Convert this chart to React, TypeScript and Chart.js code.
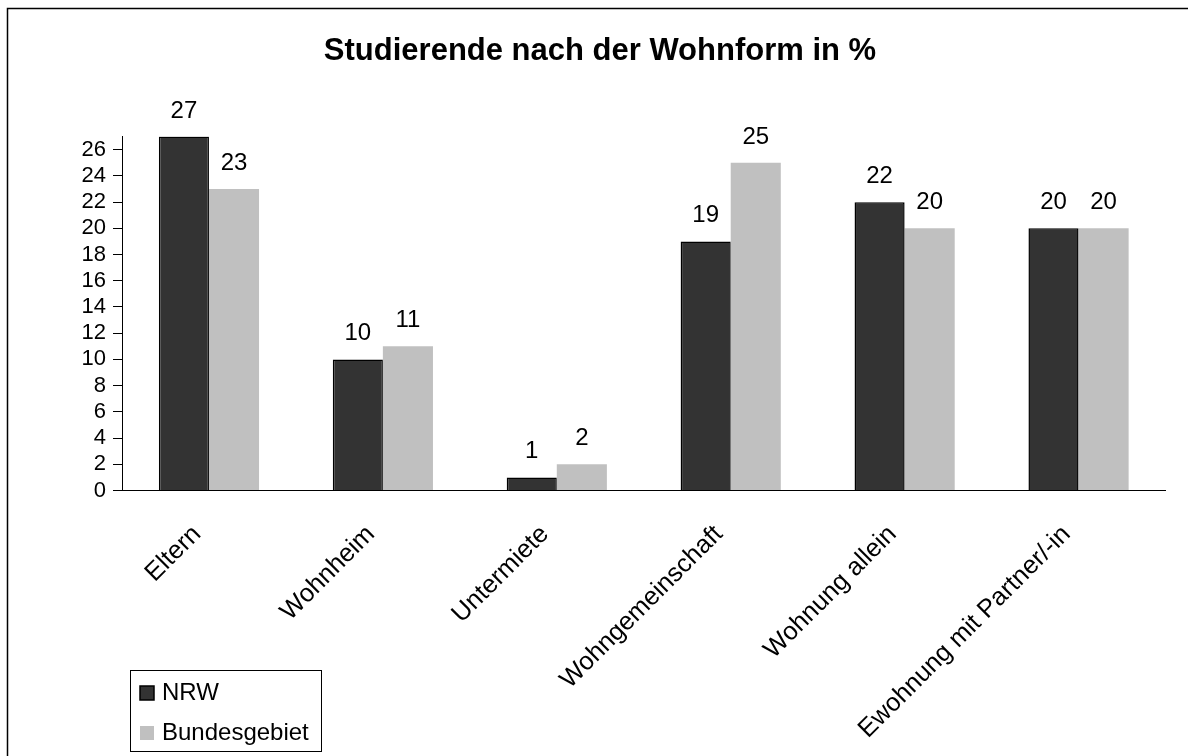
import React, { useEffect, useRef } from "react";
import { Chart, registerables } from "chart.js";

Chart.register(...registerables);

const categories = [
  "Eltern",
  "Wohnheim",
  "Untermiete",
  "Wohngemeinschaft",
  "Wohnung allein",
  "Ewohnung mit Partner/-in",
];
const nrwValues = [27, 10, 1, 19, 22, 20];
const bundValues = [23, 11, 2, 25, 20, 20];
const seriesNames = ["NRW", "Bundesgebiet"];
const yTickValues = [0, 2, 4, 6, 8, 10, 12, 14, 16, 18, 20, 22, 24, 26];
const titleText = "Studierende nach der Wohnform in %";

const FONT = "'Liberation Sans', Arial, sans-serif";

const framePlugin = {
  id: "frame",
  beforeDraw(chart: any) {
    const ctx = chart.ctx;
    ctx.save();
    ctx.fillStyle = "#ffffff";
    ctx.fillRect(0, 0, chart.width, chart.height);
    ctx.strokeStyle = "#000000";
    ctx.lineWidth = 1.5;
    ctx.strokeRect(7.5, 8.5, chart.width + 20, chart.height + 20);
    ctx.font = `bold 31px ${FONT}`;
    ctx.fillStyle = "#000000";
    ctx.textAlign = "center";
    ctx.textBaseline = "middle";
    ctx.fillText(titleText, 600, 51);
    ctx.restore();
  },
};

const valueLabelPlugin = {
  id: "valueLabels",
  afterDatasetsDraw(chart: any) {
    const ctx = chart.ctx;
    ctx.save();
    ctx.font = `24px ${FONT}`;
    ctx.fillStyle = "#000000";
    ctx.textAlign = "center";
    ctx.textBaseline = "alphabetic";
    chart.data.datasets.forEach((ds: any, di: number) => {
      const meta = chart.getDatasetMeta(di);
      meta.data.forEach((el: any, i: number) => {
        ctx.fillText(String(ds.data[i]), el.x, el.y - 19);
      });
    });
    ctx.restore();
  },
};

const boxLegendPlugin = {
  id: "boxLegend",
  afterDraw(chart: any) {
    const ctx = chart.ctx;
    ctx.save();
    ctx.strokeStyle = "#000000";
    ctx.lineWidth = 1;
    ctx.strokeRect(130.5, 670.5, 191, 81);
    ctx.font = `24px ${FONT}`;
    ctx.textAlign = "left";
    ctx.textBaseline = "alphabetic";
    chart.data.datasets.forEach((ds: any, i: number) => {
      const y = 686 + i * 40;
      ctx.fillStyle = ds.backgroundColor;
      ctx.fillRect(140, y, 14, 14);
      if (ds.borderWidth > 0) {
        ctx.strokeStyle = "#000000";
        ctx.lineWidth = 1.5;
        ctx.strokeRect(140, y, 14, 14);
      }
      ctx.fillStyle = "#000000";
      ctx.fillText(ds.label, 162, 699.5 + i * 40);
    });
    ctx.restore();
  },
};

export default function App() {
  const canvasRef = useRef<HTMLCanvasElement | null>(null);

  useEffect(() => {
    if (!canvasRef.current) return;
    const chart = new Chart(canvasRef.current, {
      type: "bar",
      data: {
        labels: categories,
        datasets: [
          {
            label: seriesNames[0],
            data: nrwValues,
            backgroundColor: "#333333",
            borderColor: "#000000",
            borderWidth: 1.5,
            categoryPercentage: 0.576,
            barPercentage: 1,
          },
          {
            label: seriesNames[1],
            data: bundValues,
            backgroundColor: "#c0c0c0",
            borderWidth: 0,
            categoryPercentage: 0.576,
            barPercentage: 1,
          },
        ],
      },
      options: {
        responsive: false,
        animation: false,
        devicePixelRatio: 1,
        layout: { padding: { left: 0, right: 22.5, top: 136.6, bottom: 0 } },
        plugins: {
          legend: { display: false },
          tooltip: { enabled: false },
          title: { display: false },
        },
        scales: {
          x: {
            type: "category",
            grid: { display: false, drawTicks: false },
            border: { display: true, color: "#000000", width: 1 },
            ticks: {
              color: "#000000",
              font: { family: FONT, size: 25.5 },
              minRotation: 45,
              maxRotation: 45,
              autoSkip: false,
              padding: 29,
              labelOffset: -12,
            },
            afterFit(scale: any) {
              scale.height = 756 - 490.5;
            },
          },
          y: {
            min: 0,
            max: 27,
            grid: {
              display: true,
              drawOnChartArea: false,
              drawTicks: true,
              tickLength: 9,
              color: "#000000",
            },
            border: { display: true, color: "#000000", width: 1 },
            ticks: {
              stepSize: 2,
              autoSkip: false,
              color: "#000000",
              font: { family: FONT, size: 22 },
              padding: 7,
            },
            afterBuildTicks(scale: any) {
              scale.ticks = yTickValues.map((v) => ({ value: v }));
            },
            afterFit(scale: any) {
              scale.width = 122;
            },
          },
        },
      },
      plugins: [framePlugin, valueLabelPlugin, boxLegendPlugin],
    });
    return () => chart.destroy();
  }, []);

  return (
    <div style={{ position: "absolute", left: 0, top: 0, width: 1188, height: 756 }}>
      <canvas ref={canvasRef} width={1188} height={756} style={{ display: "block" }} />
    </div>
  );
}
